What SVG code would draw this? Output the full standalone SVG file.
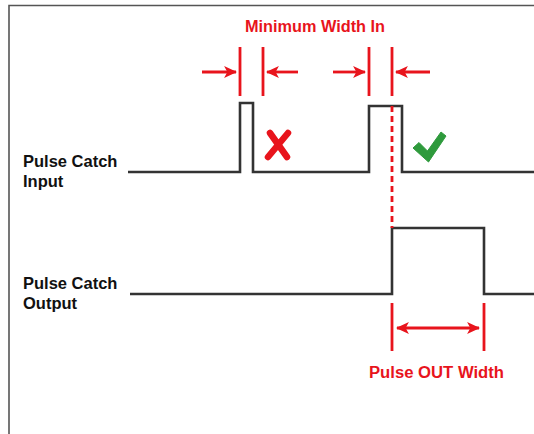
<svg xmlns="http://www.w3.org/2000/svg" width="534" height="434" viewBox="0 0 534 434">
<defs>
<style>
.sig{fill:none;stroke:#333;stroke-width:2.6;stroke-linejoin:miter}
.red{stroke:#e8141c;stroke-width:2.8;fill:none}
.lbl{font-family:"Liberation Sans",Arial,sans-serif;font-weight:bold;font-size:16.5px;fill:#111}
.rlbl{font-family:"Liberation Sans",Arial,sans-serif;font-weight:bold;font-size:16px;fill:#e8141c}
</style>
<marker id="ah" viewBox="0 0 12 12" refX="11" refY="6" markerWidth="13" markerHeight="13" markerUnits="userSpaceOnUse" orient="auto-start-reverse">
<path d="M0,0.5 L12,6 L0,11.5 L3,6 Z" fill="#e8141c"/>
</marker>
</defs>
<rect width="534" height="434" fill="#fff"/>
<g id="frame">
<path d="M534,5.5 L9,5.5 L9,434" fill="none" stroke="#555" stroke-width="1.6"/>
</g>
<g id="input-label">
<text class="lbl" x="23" y="167">Pulse Catch</text>
<text class="lbl" x="23" y="187">Input</text>
</g>
<g id="output-label">
<text class="lbl" x="23" y="289">Pulse Catch</text>
<text class="lbl" x="23" y="309">Output</text>
</g>
<g id="input-signal">
<path class="sig" d="M128,172 L240,172 L240,103 L253,103 L253,172 L369,172 L369,106 L402,106 L402,172 L534,172"/>
</g>
<g id="output-signal">
<path class="sig" d="M130,294 L392,294 L392,228 L484,228 L484,294 L534,294"/>
</g>
<g id="min-width-label">
<text class="rlbl" x="315" y="32" text-anchor="middle" textLength="140" lengthAdjust="spacingAndGlyphs">Minimum Width In</text>
</g>
<g id="reject-mark">
<path d="M270,133 L287,157 M288,133 L268,157" stroke="#e8141c" stroke-width="6.5" stroke-linecap="round" fill="none"/>
</g>
<g id="accept-mark">
<path d="M413,148 L419,142.5 L427.5,151 L441,132 L446,136 L428.5,162 Z" fill="#2e9a3c" stroke="#2e9a3c" stroke-width="1" stroke-linejoin="round"/>
</g>
<g id="pulse-out-label">
<text class="rlbl" x="436.5" y="378" text-anchor="middle" textLength="135" lengthAdjust="spacingAndGlyphs">Pulse OUT Width</text>
</g>
<g id="connectors">
<line class="red" x1="240" y1="47" x2="240" y2="96"/>
<line class="red" x1="263" y1="47" x2="263" y2="96"/>
<line class="red" x1="202" y1="72" x2="236" y2="72" marker-end="url(#ah)"/>
<line class="red" x1="298" y1="72" x2="267" y2="72" marker-end="url(#ah)"/>
<line class="red" x1="369" y1="47" x2="369" y2="96"/>
<line class="red" x1="392" y1="47" x2="392" y2="96"/>
<line class="red" x1="333" y1="72" x2="365" y2="72" marker-end="url(#ah)"/>
<line class="red" x1="430" y1="72" x2="396" y2="72" marker-end="url(#ah)"/>
<line class="red" x1="392" y1="106" x2="392" y2="228" stroke-dasharray="6,4"/>
<line class="red" x1="392" y1="303" x2="392" y2="351"/>
<line class="red" x1="484" y1="303" x2="484" y2="351"/>
<line class="red" x1="397" y1="328" x2="479" y2="328" marker-start="url(#ah)" marker-end="url(#ah)"/>
</g>
</svg>
